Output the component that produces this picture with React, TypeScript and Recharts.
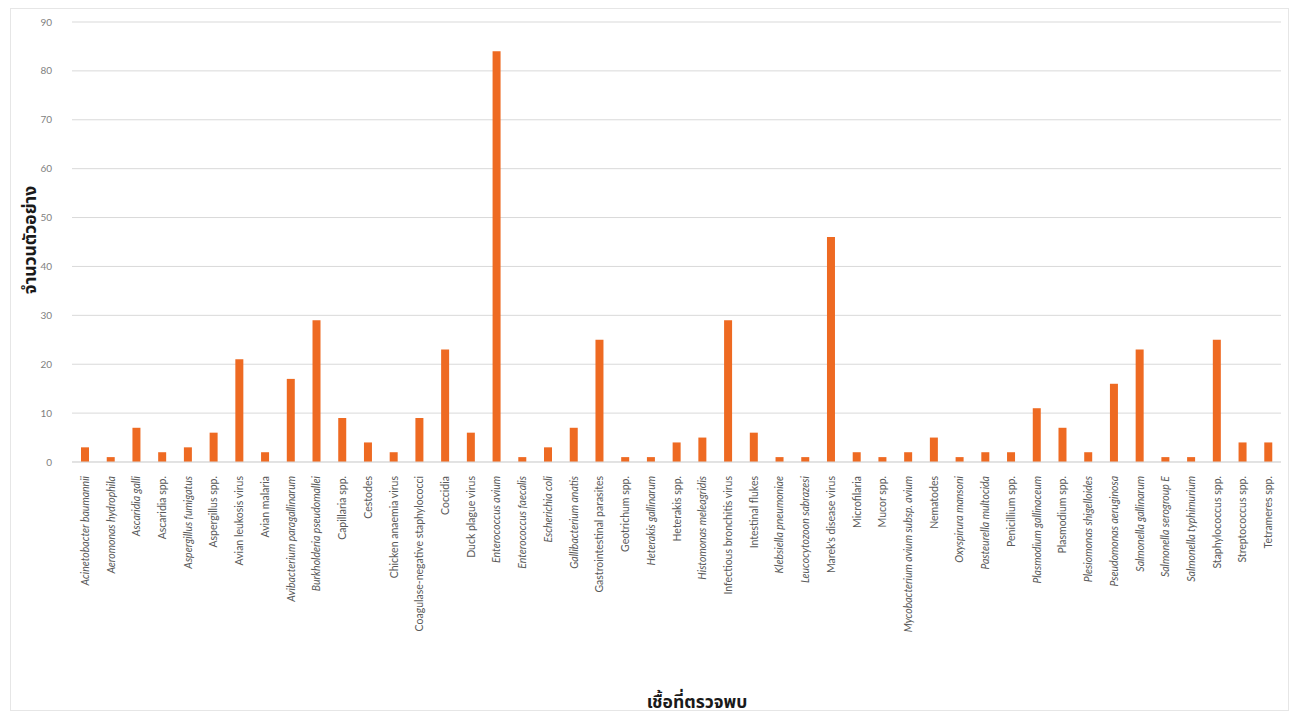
import { BarChart, Bar, XAxis, YAxis, CartesianGrid, Label } from "recharts";

const categories = [
  "Acinetobacter baumannii",
  "Aeromonas hydrophila",
  "Ascaridia galli",
  "Ascaridia spp.",
  "Aspergillus fumigatus",
  "Aspergillus spp.",
  "Avian leukosis virus",
  "Avian malaria",
  "Avibacterium paragallinarum",
  "Burkholderia pseudomallei",
  "Capillaria spp.",
  "Cestodes",
  "Chicken anaemia virus",
  "Coagulase-negative staphylococci",
  "Coccidia",
  "Duck plague virus",
  "Enterococcus avium",
  "Enterococcus faecalis",
  "Escherichia coli",
  "Gallibacterium anatis",
  "Gastrointestinal parasites",
  "Geotrichum spp.",
  "Heterakis gallinarum",
  "Heterakis spp.",
  "Histomonas meleagridis",
  "Infectious bronchitis virus",
  "Intestinal flukes",
  "Klebsiella pneumoniae",
  "Leucocytozoon sabrazesi",
  "Marek's disease virus",
  "Microfilaria",
  "Mucor spp.",
  "Mycobacterium avium subsp. avium",
  "Nematodes",
  "Oxyspirura mansoni",
  "Pasteurella multocida",
  "Penicillium spp.",
  "Plasmodium gallinaceum",
  "Plasmodium spp.",
  "Plesiomonas shigelloides",
  "Pseudomonas aeruginosa",
  "Salmonella gallinarum",
  "Salmonella serogroup E",
  "Salmonella typhimurium",
  "Staphylococcus spp.",
  "Streptococcus spp.",
  "Tetrameres spp.",
];

const counts = [
  3, 1, 7, 2, 3, 6, 21, 2, 17, 29, 9, 4, 2, 9, 23, 6, 84, 1, 3, 7, 25, 1, 1, 4,
  5, 29, 6, 1, 1, 46, 2, 1, 2, 5, 1, 2, 2, 11, 7, 2, 16, 23, 1, 1, 25, 4, 4,
];

// names written upright in the original, everything else is italic
const uprightNames = [
  "Ascaridia spp.",
  "Aspergillus spp.",
  "Avian leukosis virus",
  "Avian malaria",
  "Capillaria spp.",
  "Cestodes",
  "Chicken anaemia virus",
  "Coagulase-negative staphylococci",
  "Coccidia",
  "Duck plague virus",
  "Gastrointestinal parasites",
  "Geotrichum spp.",
  "Heterakis spp.",
  "Infectious bronchitis virus",
  "Intestinal flukes",
  "Marek's disease virus",
  "Microfilaria",
  "Mucor spp.",
  "Nematodes",
  "Penicillium spp.",
  "Plasmodium spp.",
  "Staphylococcus spp.",
  "Streptococcus spp.",
  "Tetrameres spp.",
];

const yTicks = [0, 10, 20, 30, 40, 50, 60, 70, 80, 90];

const data = categories.map((name, i) => ({ name, count: counts[i] }));

const FONT = "'Lato', 'Open Sans', sans-serif";
const THAI = "'Noto Sans Thai', 'Tahoma', 'DejaVu Sans', sans-serif";

function NameTick({ x, y, payload }: any) {
  const italic = !uprightNames.includes(payload.value);
  const ty = y + 6;
  return (
    <text
      x={x}
      y={ty}
      transform={`rotate(-90, ${x}, ${ty})`}
      textAnchor="end"
      dominantBaseline="central"
      fontSize={10.5}
      fontFamily={FONT}
      fontStyle={italic ? "italic" : "normal"}
      fill="#595959"
    >
      {payload.value}
    </text>
  );
}

function YTitle({ viewBox }: any) {
  const cx = 30;
  const cy = viewBox.y + viewBox.height / 2 - 2;
  return (
    <text
      x={cx}
      y={cy}
      transform={`rotate(-90, ${cx}, ${cy})`}
      textAnchor="middle"
      dominantBaseline="central"
      fontSize={17.5}
      fontWeight="bold"
      fontFamily={THAI}
      fill="#1a1a1a"
    >
      จำนวนตัวอย่าง
    </text>
  );
}

function XTitle({ viewBox }: any) {
  const cx = 697;
  return (
    <text
      x={cx}
      y={viewBox.y + viewBox.height + 50}
      textAnchor="middle"
      dominantBaseline="central"
      fontSize={17.5}
      fontWeight="bold"
      fontFamily={THAI}
      fill="#1a1a1a"
    >
      เชื้อที่ตรวจพบ
    </text>
  );
}

export default function App() {
  return (
    <div
      style={{
        position: "absolute",
        left: 0,
        top: 0,
        width: 1297,
        height: 719,
        background: "#fff",
      }}
    >
      <div
        style={{
          position: "absolute",
          left: 10,
          top: 8,
          width: 1279,
          height: 703,
          border: "1px solid #e6e6e6",
          boxSizing: "border-box",
        }}
      />
      <BarChart
        width={1297}
        height={719}
        data={data}
        margin={{ top: 22, right: 16, left: 0, bottom: 67 }}
        barCategoryGap={0}
        style={{ position: "absolute", left: 0, top: 0 }}
      >
        <CartesianGrid vertical={false} stroke="#d9d9d9" />
        <XAxis
          dataKey="name"
          interval={0}
          height={190}
          tick={<NameTick />}
          tickLine={false}
          axisLine={{ stroke: "#d9d9d9" }}
        >
          <Label content={<XTitle />} />
        </XAxis>
        <YAxis
          width={72}
          domain={[0, 90]}
          ticks={yTicks}
          tickLine={false}
          axisLine={false}
          tick={{ fontSize: 10, fill: "#7f7f7f", fontFamily: FONT, dx: -12 }}
        >
          <Label content={<YTitle />} />
        </YAxis>
        <Bar dataKey="count" fill="#EE6A22" barSize={8} isAnimationActive={false} />
      </BarChart>
    </div>
  );
}
